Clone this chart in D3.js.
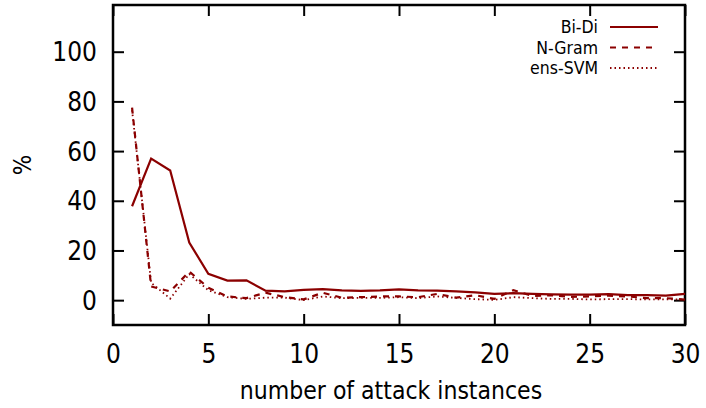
<!DOCTYPE html>
<html><head><meta charset="utf-8">
<script src="https://cdn.jsdelivr.net/npm/d3@7"></script>
<style>
html,body{margin:0;padding:0;background:#fff;}
svg text{font-family:"DejaVu Sans Condensed","DejaVu Sans",sans-serif;font-stretch:condensed;fill:#000;}
</style></head>
<body><svg id="c" width="706" height="408"></svg>
<script>
const xs = d3.range(1, 31);
const biDi   = [37.8, 57.0, 52.2, 23.2, 10.6, 7.9, 8.0, 3.8, 3.5, 4.1, 4.4, 3.9, 3.7, 3.9, 4.3, 3.9, 3.8, 3.5, 3.1, 2.5, 2.8, 2.5, 2.3, 2.2, 2.2, 2.4, 2.0, 2.0, 1.8, 2.5];
const nGram  = [77.5, 5.5, 3.5, 11.5, 5.0, 1.5, 0.8, 3.0, 1.2, 0.3, 3.0, 1.0, 1.2, 1.5, 1.5, 1.2, 2.5, 1.0, 2.0, 0.5, 4.0, 1.7, 2.0, 1.3, 1.5, 1.8, 1.5, 0.8, 0.8, 0.2];
const ensSVM = [76.5, 7.0, 0.6, 10.5, 4.0, 1.2, 0.5, 1.0, 1.0, 0.0, 1.5, 0.8, 0.9, 0.9, 1.2, 0.8, 1.5, 0.9, 0.4, 0.1, 1.2, 0.8, 0.5, 0.5, 0.3, 0.4, 0.4, 0.3, 0.3, 0.3];
const seriesNames = ["Bi-Di", "N-Gram", "ens-SVM"];
const xTicks = [0, 5, 10, 15, 20, 25, 30];
const yTicks = [0, 20, 40, 60, 80, 100];

const svg = d3.select("#c");
const L = 113, R = 685, T = 5, B = 325;
const x = d3.scaleLinear().domain([0, 30]).range([L, R]);
const y = d3.scaleLinear().domain([-10, 118.8]).range([B, T]);
const color = "#8b0000";
const tk = 11;

// axes with mirrored ticks
const axB = svg.append("g").attr("transform", `translate(0,${B})`)
  .call(d3.axisBottom(x).tickValues(xTicks).tickSize(-tk).tickPadding(tk + 9));
const axT = svg.append("g").attr("transform", `translate(0,${T})`)
  .call(d3.axisTop(x).tickValues(xTicks).tickSize(-tk).tickFormat(""));
const axL = svg.append("g").attr("transform", `translate(${L},0)`)
  .call(d3.axisLeft(y).tickValues(yTicks).tickSize(-tk).tickPadding(tk + 5));
const axR = svg.append("g").attr("transform", `translate(${R},0)`)
  .call(d3.axisRight(y).tickValues(yTicks).tickSize(-tk).tickFormat(""));
[axB, axT, axL, axR].forEach(a => {
  a.select(".domain").remove();
  a.selectAll(".tick line").attr("stroke", "#000").attr("stroke-width", 2);
  a.selectAll("text").attr("font-size", 26).style("font-family", null);
});
axB.selectAll("text").attr("dy", "0.71em");
axL.selectAll("text").attr("dy", "0.35em");

// border
svg.append("rect").attr("x", L).attr("y", T).attr("width", R - L).attr("height", B - T)
  .attr("fill", "none").attr("stroke", "#000").attr("stroke-width", 2.5);

const line = d3.line().x((d, i) => x(xs[i])).y(d => y(d));
const styles = [
  {data: biDi, dash: null, w: 2.2},
  {data: nGram, dash: "6,6", w: 2.2},
  {data: ensSVM, dash: "1.5,3", w: 1.8}
];
styles.forEach(s => {
  svg.append("path").datum(s.data).attr("d", line)
    .attr("fill", "none").attr("stroke", color).attr("stroke-width", s.w)
    .attr("stroke-dasharray", s.dash);
});

// legend
const lg = svg.append("g");
seriesNames.forEach((n, i) => {
  const cy = 27 + i * 20.5;
  lg.append("text").attr("x", 598).attr("y", cy).attr("dy", "0.35em")
    .attr("text-anchor", "end").attr("font-size", 17.5).text(n);
  lg.append("line").attr("x1", 610).attr("x2", 658).attr("y1", cy).attr("y2", cy)
    .attr("stroke", color).attr("stroke-width", styles[i].w)
    .attr("stroke-dasharray", styles[i].dash);
});

// axis labels
svg.append("text").attr("x", (L + R) / 2 - 8).attr("y", 399).attr("text-anchor", "middle")
  .attr("font-size", 24.5).text("number of attack instances");
svg.append("text").attr("transform", "translate(31,165) rotate(-90)").attr("text-anchor", "middle")
  .attr("font-size", 24).text("%");
</script></body></html>
